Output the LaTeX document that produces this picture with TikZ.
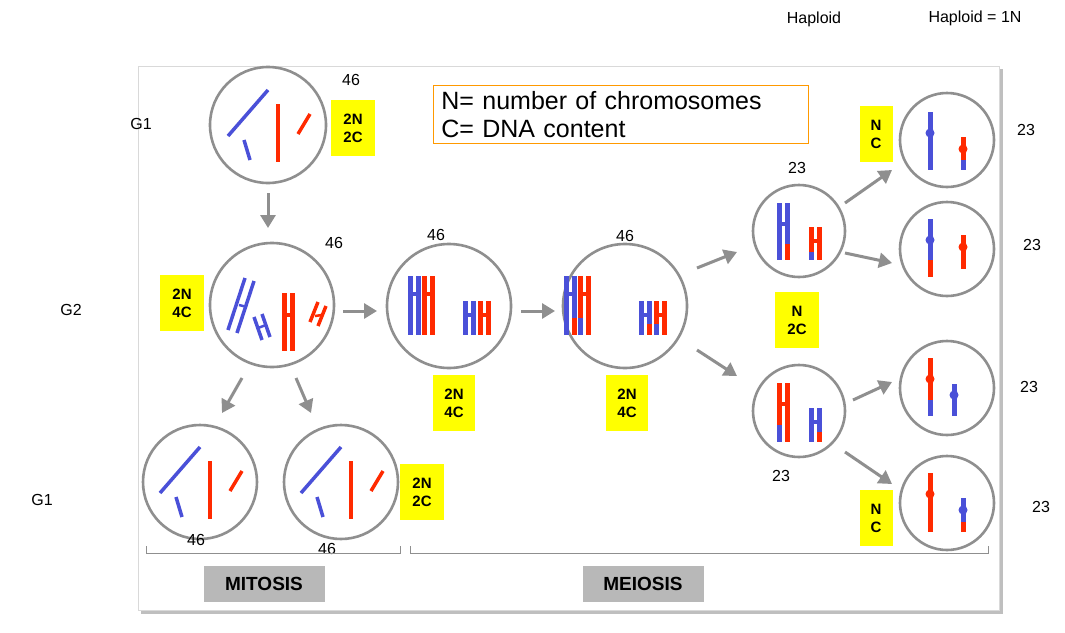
\documentclass[tikz,border=0pt]{standalone}
\usepackage{fontspec}
\setmainfont{Liberation Sans}
\usetikzlibrary{arrows.meta}
\definecolor{cb}{HTML}{4A50D8}
\definecolor{cr}{HTML}{FF2A00}
\definecolor{cg}{HTML}{8F8F8F}
\definecolor{yl}{HTML}{FFFF00}
\tikzset{
 cell/.style={circle,draw=cg,line width=2.6pt,fill=white,inner sep=0pt},
 ybox/.style={fill=yl,align=center,font=\bfseries\fontsize{15}{18}\selectfont,inner sep=0pt,minimum width=44pt,minimum height=56pt},
 arr/.style={draw=cg,line width=3pt,-{Triangle[length=13pt,width=15pt]}},
 lbl/.style={font=\fontsize{16}{18}\selectfont,inner sep=0pt},
 gbox/.style={fill=black!28,font=\bfseries\fontsize{19}{21}\selectfont,minimum width=121pt,minimum height=36pt,inner sep=0pt},
}
% H: x y(top) height colour barpos ; bars 5 wide, gap 3
\newcommand{\chH}[5]{\fill[#4] (#1,#2) rectangle ++(5,#3);\fill[#4] (#1+8,#2) rectangle ++(5,#3);\fill[#4] (#1+4,#2+#5) rectangle ++(5,4);}
\begin{document}
\begin{tikzpicture}[x=1pt,y=-1pt]
\useasboundingbox (0,0) rectangle (1065,632);
\fill[white] (0,0) rectangle (1065,632);
\fill[black!25] (141,69) rectangle (1003,614);
\draw[black!15,fill=white] (138,66) rectangle (999,610);
% cells
\node[cell,minimum size=116pt] (g1) at (268,125) {};
\node[cell,minimum size=124pt] (g2) at (272,305) {};
\node[cell,minimum size=124pt] (m1) at (449,306) {};
\node[cell,minimum size=124pt] (m2) at (625,306) {};
\node[cell,minimum size=114pt] (d1) at (200,482) {};
\node[cell,minimum size=114pt] (d2) at (341,482) {};
\node[cell,minimum size=92pt] (p1) at (799,231) {};
\node[cell,minimum size=92pt] (p2) at (799,411) {};
\node[cell,minimum size=94pt] (f1) at (947,140) {};
\node[cell,minimum size=94pt] (f2) at (947,249) {};
\node[cell,minimum size=94pt] (f3) at (947,388) {};
\node[cell,minimum size=94pt] (f4) at (947,503) {};
% G1 chromosomes
\begin{scope}[line width=3.5pt]
\draw[cb] (228,136) -- (268,90); \draw[cb] (244,140) -- (250,160);
\draw[cr] (278,104) -- (278,162); \draw[cr] (298,134) -- (310,114);
\foreach \dx/\dy in {-68/357,73/357} {
\begin{scope}[shift={(\dx,\dy)}]
\draw[cb] (228,136) -- (268,90); \draw[cb] (244,140) -- (250,160);
\draw[cr] (278,104) -- (278,162); \draw[cr] (298,134) -- (310,114);
\end{scope}}
% G2
\draw[cb] (228,330) -- (245,278); \draw[cb] (237,333) -- (254,281);
\draw[cb,line width=2.5pt] (239,305) -- (247,307);
\draw[cb] (254,317) -- (262,340); \draw[cb] (262,314) -- (270,337);
\draw[cb,line width=2.5pt] (258,328) -- (266,325);
\draw[cr] (318,302) -- (310,322); \draw[cr] (326,306) -- (318,326);
\draw[cr,line width=2.5pt] (315,316) -- (322,315);
\end{scope}
\chH{282}{293}{58}{cr}{20}
% M1
\chH{408}{276}{59}{cb}{16}
\chH{422}{276}{59}{cr}{16}
\chH{463}{301}{34}{cb}{12}
\chH{478}{301}{34}{cr}{12}
% M2
\chH{564}{276}{59}{cb}{16}
\chH{578}{276}{59}{cr}{16}
\fill[cr] (572,318) rectangle ++(5,17); \fill[cb] (578,318) rectangle ++(5,17);
\chH{639}{301}{34}{cb}{12}
\chH{654}{301}{34}{cr}{12}
\fill[cr] (647,324) rectangle ++(5,11); \fill[cb] (654,324) rectangle ++(5,11);
% P1, P2
\chH{777}{203}{57}{cb}{19}
\fill[cr] (785,244) rectangle ++(5,16);
\chH{809}{227}{33}{cr}{12}
\fill[cb] (809,252) rectangle ++(5,8);
\chH{777}{383}{59}{cr}{19}
\fill[cb] (777,425) rectangle ++(5,17);
\chH{809}{408}{34}{cb}{12}
\fill[cr] (817,432) rectangle ++(5,10);
% finals
\begin{scope}[line width=5pt]
\draw[cb] (930,112) -- (930,170); \fill[cb] (930,133) circle (4.5);
\draw[cr] (963,137) -- (963,160); \draw[cb] (963,160) -- (963,170); \fill[cr] (963,149) circle (4.5);
\draw[cb] (930,219) -- (930,260); \draw[cr] (930,260) -- (930,277); \fill[cb] (930,240) circle (4.5);
\draw[cr] (963,235) -- (963,269); \fill[cr] (963,247) circle (4.5);
\draw[cr] (930,358) -- (930,400); \draw[cb] (930,400) -- (930,416); \fill[cr] (930,379) circle (4.5);
\draw[cb] (954,384) -- (954,416); \fill[cb] (954,395) circle (4.5);
\draw[cr] (930,473) -- (930,532); \fill[cr] (930,494) circle (4.5);
\draw[cb] (963,498) -- (963,522); \draw[cr] (963,522) -- (963,532); \fill[cb] (963,510) circle (4.5);
\end{scope}
% arrows
\coordinate (a1s) at (268,193); \coordinate (a1e) at (268,228);
\coordinate (a2s) at (343,311); \coordinate (a2e) at (377,311);
\coordinate (a3s) at (521,311); \coordinate (a3e) at (555,311);
\coordinate (a4s) at (697,268); \coordinate (a4e) at (737,252);
\coordinate (a5s) at (697,350); \coordinate (a5e) at (737,376);
\coordinate (a6s) at (242,378); \coordinate (a6e) at (222,413);
\coordinate (a7s) at (296,378); \coordinate (a7e) at (311,413);
\coordinate (a8s) at (845,203); \coordinate (a8e) at (892,170);
\coordinate (a9s) at (845,253); \coordinate (a9e) at (892,263);
\coordinate (a10s) at (853,400); \coordinate (a10e) at (892,382);
\coordinate (a11s) at (845,452); \coordinate (a11e) at (892,484);
\foreach \i in {1,...,11} {\draw[arr] (a\i s) -- (a\i e);}
% yellow boxes
\node[ybox] (y1) at (353,128) {2N\\2C};
\node[ybox] (y2) at (182,303) {2N\\4C};
\node[ybox,minimum width=42pt] (y3) at (454,403) {2N\\4C};
\node[ybox,minimum width=42pt] (y4) at (627,403) {2N\\4C};
\node[ybox] (y5) at (797,320) {N\\2C};
\node[ybox,minimum width=33pt] (y6) at (876,134) {N\\C};
\node[ybox,minimum width=33pt] (y7) at (876,518) {N\\C};
\node[ybox] (y8) at (422,492) {2N\\2C};
% legend
\node[draw=orange!80!yellow,fill=white,line width=0.8pt,align=left,font=\fontsize{25}{28}\selectfont,text width=359pt,inner xsep=8pt,inner ysep=6pt,anchor=north west] (leg) at (433,85) {N= number of chromosomes\\C= DNA content};
% labels
\node[lbl] (t1) at (814,19) {Haploid};
\node[lbl] (t2) at (975,18) {Haploid = 1N};
\node[lbl] (t3) at (141,124) {G1};
\node[lbl] (t4) at (71,310) {G2};
\node[lbl] (t5) at (42,500) {G1};
\node[lbl] (n1) at (351,80) {46};
\node[lbl] (n2) at (334,243) {46};
\node[lbl] (n3) at (436,235) {46};
\node[lbl] (n4) at (625,236) {46};
\node[lbl] (n5) at (797,168) {23};
\node[lbl] (n6) at (781,476) {23};
\node[lbl] (n7) at (196,540) {46};
\node[lbl] (n8) at (327,549) {46};
\node[lbl] (n9) at (1026,130) {23};
\node[lbl] (n10) at (1032,245) {23};
\node[lbl] (n11) at (1029,387) {23};
\node[lbl] (n12) at (1041,507) {23};
% brackets
\draw[cg,line width=0.8pt] (146,546) -- (146,553) -- (400,553) -- (400,546);
\draw[cg,line width=0.8pt] (410,546) -- (410,553) -- (988,553) -- (988,546);
\node[gbox] (mi) at (264,584) {MITOSIS};
\node[gbox] (me) at (643,584) {MEIOSIS};
\end{tikzpicture}
\end{document}
